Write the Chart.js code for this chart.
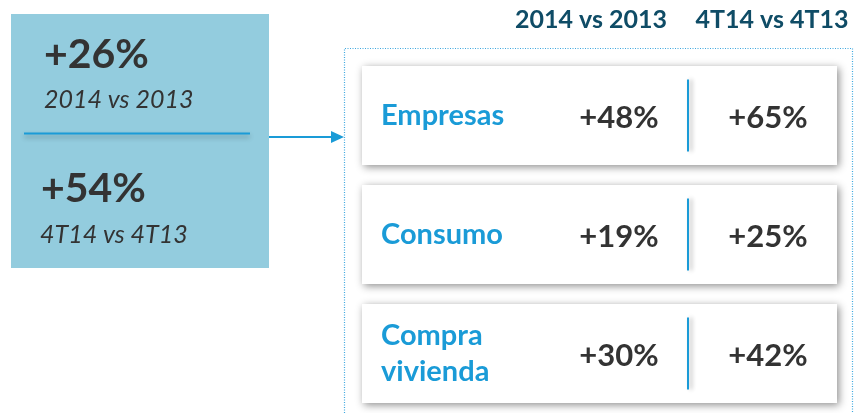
<!DOCTYPE html>
<html>
<head>
<meta charset="utf-8">
<script src="https://cdn.jsdelivr.net/npm/chart.js@4"></script>
<style>
  html, body { margin: 0; padding: 0; background: #fff; }
  .chart-container1 { position: relative; width: 863px; height: 413px; }
</style>
</head>
<body>
<div class="chart-container1"><canvas id="crecimiento"></canvas></div>
<script>
// categorias y crecimientos
const categorias = ['Empresas', 'Consumo', ['Compra', 'vivienda']];
const periodos = ['2014 vs 2013', '4T14 vs 4T13'];
const crecimiento2014 = [48, 19, 30];
const crecimiento4T14 = [65, 25, 42];
const crecimientoTotal = [26, 54];
const tarjetas = [1, 1, 1];

const azul = '#1a9bd7';
const gris = '#333333';

const fmt = v => '+' + v + '%';

const dibujo = {
    id: 'dibujo',
    beforeDraw(chart) {
        const ctx = chart.ctx;
        ctx.save();
        ctx.fillStyle = '#ffffff';
        ctx.fillRect(0, 0, chart.width, chart.height);

        // caja izquierda
        ctx.fillStyle = '#93ccde';
        ctx.fillRect(11, 14, 258, 254);

        ctx.fillStyle = gris;
        ctx.textAlign = 'left';
        ctx.textBaseline = 'alphabetic';
        ctx.font = 'bold 41px Lato';
        ctx.fillText(fmt(crecimientoTotal[0]), 44, 68);
        ctx.fillText(fmt(crecimientoTotal[1]), 41, 202);
        ctx.font = 'italic 25px Lato';
        ctx.fillText(periodos[0], 44, 108);
        ctx.fillText(periodos[1], 40, 243);

        // linea separadora
        ctx.save();
        ctx.shadowColor = 'rgba(0,0,0,0.3)';
        ctx.shadowBlur = 5;
        ctx.shadowOffsetY = 3;
        ctx.strokeStyle = azul;
        ctx.lineWidth = 2;
        ctx.beginPath();
        ctx.moveTo(24, 133.5);
        ctx.lineTo(250, 133.5);
        ctx.stroke();
        ctx.restore();

        // flecha
        ctx.strokeStyle = azul;
        ctx.lineWidth = 2;
        ctx.beginPath();
        ctx.moveTo(269, 137);
        ctx.lineTo(333, 137);
        ctx.stroke();
        ctx.fillStyle = azul;
        ctx.beginPath();
        ctx.moveTo(331, 131);
        ctx.lineTo(344, 137);
        ctx.lineTo(331, 143);
        ctx.closePath();
        ctx.fill();

        // cabeceras
        ctx.fillStyle = '#0f4c66';
        ctx.font = 'bold 25px Lato';
        ctx.textAlign = 'center';
        ctx.fillText(periodos[0], 591, 28);
        ctx.fillText(periodos[1], 772, 28);

        // marco punteado
        ctx.strokeStyle = '#3da8e0';
        ctx.lineWidth = 1.2;
        ctx.setLineDash([1, 1.5]);
        ctx.beginPath();
        ctx.moveTo(344.5, chart.height);
        ctx.lineTo(344.5, 48.5);
        ctx.lineTo(852.5, 48.5);
        ctx.lineTo(852.5, chart.height);
        ctx.stroke();
        ctx.restore();
    },
    beforeDatasetDraw(chart) {
        const ctx = chart.ctx;
        ctx.save();
        ctx.shadowColor = 'rgba(0,0,0,0.45)';
        ctx.shadowBlur = 8;
        ctx.shadowOffsetX = 2;
        ctx.shadowOffsetY = 2;
    },
    afterDatasetDraw(chart) {
        chart.ctx.restore();
    },
    afterDatasetsDraw(chart) {
        const ctx = chart.ctx;
        const y = chart.scales.y;
        ctx.save();
        categorias.forEach((c, i) => {
            const cy = y.getPixelForValue(i);

            // nombre de la categoria
            const lineas = Array.isArray(c) ? c : [c];
            ctx.fillStyle = azul;
            ctx.font = 'bold 29px Lato';
            ctx.textAlign = 'left';
            ctx.textBaseline = 'middle';
            lineas.forEach((l, k) => {
                ctx.fillText(l, chart.chartArea.left + 19, cy + (k - (lineas.length - 1) / 2) * 36);
            });

            ctx.save();
            ctx.shadowColor = 'rgba(0,0,0,0.3)';
            ctx.shadowBlur = 4;
            ctx.shadowOffsetX = 3;
            ctx.strokeStyle = azul;
            ctx.lineWidth = 2;
            ctx.beginPath();
            ctx.moveTo(688, cy - 36);
            ctx.lineTo(688, cy + 36);
            ctx.stroke();
            ctx.restore();

            ctx.fillStyle = gris;
            ctx.font = 'bold 31px Lato';
            ctx.textAlign = 'center';
            ctx.fillText(fmt(crecimiento2014[i]), 619, cy + 2);
            ctx.fillText(fmt(crecimiento4T14[i]), 768, cy + 2);
        });
        ctx.restore();
    }
};

const ctx = document.getElementById('crecimiento').getContext('2d');
const myChart = new Chart(ctx, {
    type: 'bar',
    data: {
        labels: categorias,
        datasets: [{
            label: 'tarjetas',
            data: tarjetas,
            backgroundColor: '#ffffff',
            borderWidth: 0,
            barPercentage: 1,
            categoryPercentage: 0.83,
            clip: false,
        }]
    },
    options: {
        indexAxis: 'y',
        responsive: true,
        maintainAspectRatio: false,
        animation: false,
        events: [],
        layout: {
            padding: { left: 362, right: 26, top: 56, bottom: 0 }
        },
        plugins: {
            legend: { display: false },
            tooltip: { enabled: false },
        },
        scales: {
            x: { display: false, min: 0, max: 1 },
            y: { display: false }
        }
    },
    plugins: [dibujo]
});
</script>
</body>
</html>
